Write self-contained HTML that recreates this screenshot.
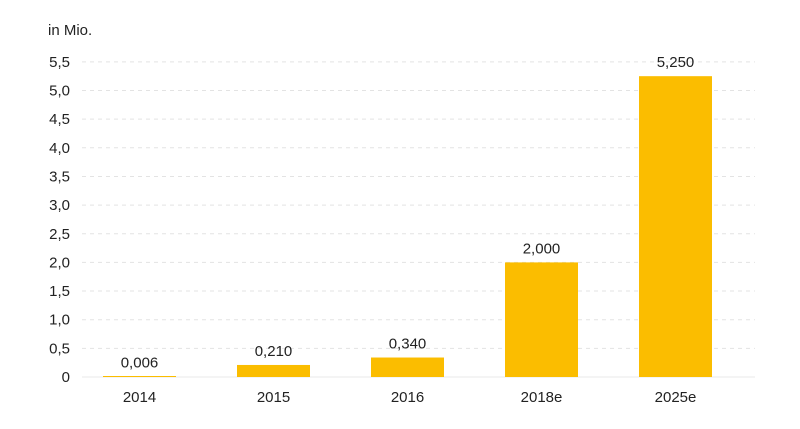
<!DOCTYPE html>
<html><head><meta charset="utf-8">
<style>
body{margin:0;background:#fff;width:800px;height:424px;overflow:hidden;font-family:"Liberation Sans",sans-serif;}
svg text{font-family:"Liberation Sans",sans-serif;fill:#222;}
</style></head>
<body>
<svg id="chart" width="800" height="424" xmlns="http://www.w3.org/2000/svg">
<text x="48" y="35" font-size="15">in Mio.</text>
</svg>
<script>
const categories = ["2014","2015","2016","2018e","2025e"];
const values = [0.006,0.210,0.340,2.000,5.250];
const valueLabels = ["0,006","0,210","0,340","2,000","5,250"];
const yTicks = [0,0.5,1,1.5,2,2.5,3,3.5,4,4.5,5,5.5];
const yTickLabels = ["0","0,5","1,0","1,5","2,0","2,5","3,0","3,5","4,0","4,5","5,0","5,5"];

const NS="http://www.w3.org/2000/svg";
const svg=document.getElementById('chart');
const y0=377, pxPerUnit=57.3;
const y=v=>y0-v*pxPerUnit;
const x0=139.5, step=134, bw=73;
const x=i=>x0+i*step;
function mk(tag,attrs){const e=document.createElementNS(NS,tag);for(const k in attrs)e.setAttribute(k,attrs[k]);svg.appendChild(e);return e;}

yTicks.forEach((t,i)=>{
  if(t>0){
    const g=mk('line',{x1:82,x2:755,y1:y(t),y2:y(t),stroke:'#e3e3e3','stroke-dasharray':'4,4','stroke-width':1});
    
    
  }
  const l=mk('text',{x:70,y:y(t)+5,'text-anchor':'end','font-size':15});
  l.textContent=yTickLabels[i];
  
  
});
const base=mk('line',{x1:82,x2:755,y1:y0,y2:y0,stroke:'#e8e8e8','stroke-width':1});



categories.forEach((c,i)=>{
  const h=Math.max(values[i]*pxPerUnit,1);
  const r=mk('rect',{x:x(i)-bw/2,y:y0-h,width:bw,height:h,fill:'#fbbd00'});
  
  
  const v=mk('text',{x:x(i),y:y(values[i])-9,'text-anchor':'middle','font-size':15});
  v.textContent=valueLabels[i];
  
  
  const t=mk('text',{x:x(i),y:402,'text-anchor':'middle','font-size':15});
  t.textContent=c;
  
  
});
</script>
</body></html>
